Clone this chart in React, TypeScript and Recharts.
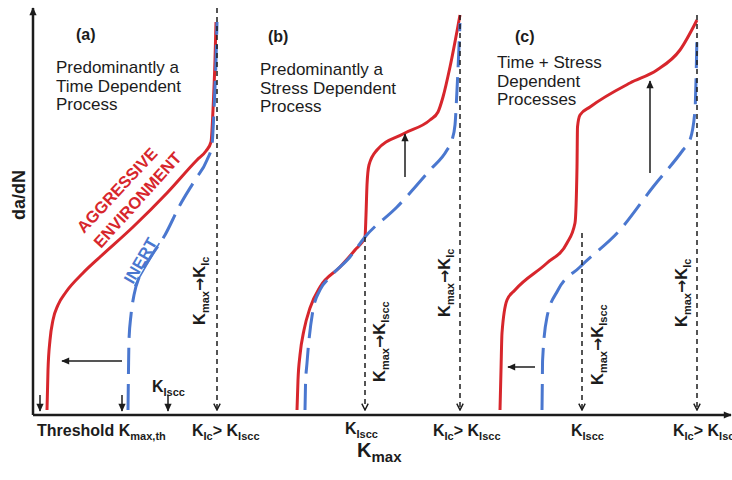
import React from "react";
import { LineChart, Line, XAxis, YAxis, ReferenceLine } from "recharts";

type Pt = { x: number; y: number };

// schematic units: x = K_max, y = da/dN (arbitrary)
const redA: Pt[] = [
  { x: 14, y: 5 }, { x: 15, y: 45 }, { x: 17, y: 75 }, { x: 20, y: 95 }, { x: 25, y: 110 },
  { x: 33, y: 123 }, { x: 50, y: 142 }, { x: 67, y: 158 }, { x: 100, y: 188 }, { x: 134, y: 222 },
  { x: 164, y: 255 }, { x: 173, y: 264 }, { x: 178, y: 273 }, { x: 180, y: 305 }, { x: 182, y: 355 },
  { x: 183, y: 393 },
];
const blueA: Pt[] = [
  { x: 95, y: 5 }, { x: 95.5, y: 45 }, { x: 96, y: 75 }, { x: 98, y: 100 }, { x: 101, y: 120 },
  { x: 107, y: 140 }, { x: 117, y: 157 }, { x: 132, y: 180 }, { x: 147, y: 210 }, { x: 162, y: 235 },
  { x: 174, y: 255 }, { x: 179, y: 270 }, { x: 181, y: 305 }, { x: 183, y: 355 }, { x: 184, y: 393 },
];
const redB: Pt[] = [
  { x: 264, y: 5 }, { x: 265, y: 35 }, { x: 267, y: 60 }, { x: 271, y: 85 }, { x: 277, y: 107 },
  { x: 287, y: 128 }, { x: 307, y: 148 }, { x: 322, y: 165 }, { x: 332, y: 178 }, { x: 333, y: 200 },
  { x: 334, y: 230 }, { x: 336, y: 250 }, { x: 344, y: 265 }, { x: 370, y: 281 }, { x: 397, y: 295 },
  { x: 405, y: 303 }, { x: 410, y: 318 }, { x: 417, y: 348 }, { x: 427, y: 400 },
];
const blueB: Pt[] = [
  { x: 272, y: 5 }, { x: 272.5, y: 30 }, { x: 274, y: 52 }, { x: 280, y: 105 }, { x: 287, y: 125 },
  { x: 297, y: 138 }, { x: 317, y: 158 }, { x: 332, y: 178 }, { x: 364, y: 208 }, { x: 397, y: 245 },
  { x: 414, y: 265 }, { x: 419, y: 275 }, { x: 422, y: 290 }, { x: 424, y: 325 }, { x: 427, y: 392 },
];
const redC: Pt[] = [
  { x: 467, y: 5 }, { x: 468, y: 45 }, { x: 469, y: 82 }, { x: 474, y: 115 }, { x: 482, y: 125 },
  { x: 514, y: 152 }, { x: 534, y: 172 }, { x: 542, y: 192 }, { x: 544, y: 248 }, { x: 544.5, y: 288 },
  { x: 547, y: 300 }, { x: 557, y: 308 }, { x: 597, y: 332 }, { x: 624, y: 345 }, { x: 647, y: 365 },
  { x: 664, y: 395 },
];
const blueC: Pt[] = [
  { x: 509, y: 5 }, { x: 509.3, y: 30 }, { x: 509.6, y: 55 }, { x: 514, y: 98 }, { x: 525, y: 125 },
  { x: 547, y: 148 }, { x: 587, y: 185 }, { x: 620, y: 228 }, { x: 650, y: 265 }, { x: 657, y: 275 },
  { x: 662, y: 305 }, { x: 664, y: 382 },
];

// vertical dotted guides (K_Iscc / K_Ic), from top down to the axis
const guides = [
  { x: 184, top: 407 },
  { x: 332, top: 178 },
  { x: 427, top: 400 },
  { x: 549, top: 182 },
  { x: 664, top: 400 },
];

// solid annotation arrows
const arrows = [
  { x1: 7, y1: 20, x2: 7, y2: 4 },
  { x1: 89, y1: 20, x2: 89, y2: 4 },
  { x1: 135, y1: 20, x2: 135, y2: 4 },
  { x1: 89, y1: 54, x2: 29, y2: 54 },
  { x1: 372, y1: 238, x2: 372, y2: 281 },
  { x1: 617, y1: 242, x2: 617, y2: 334 },
  { x1: 502, y1: 48, x2: 475, y2: 48 },
];

const RED = "#d7262c";
const BLUE = "#4a77cf";
const INK = "#1c1c1c";
const FONT = "'Liberation Sans', Arial, sans-serif";

function seg(p: any, marker: string, dash?: string, width = 1.5) {
  return (
    <line
      x1={p.x1}
      y1={p.y1}
      x2={p.x2}
      y2={p.y2}
      stroke={INK}
      strokeWidth={width}
      strokeDasharray={dash}
      markerEnd={`url(#${marker})`}
    />
  );
}

function KArrow({ x, y, to }: { x: number; y: number; to: string }) {
  return (
    <text x={x} y={y} transform={`rotate(-90 ${x} ${y})`} fontSize={16.5} fontWeight="bold" fill={INK}>
      K<tspan fontSize={11} dy={4}>max</tspan>
      <tspan dy={-4} fontFamily="'DejaVu Sans', sans-serif" fontSize={16}>→</tspan>
      <tspan>K</tspan>
      <tspan fontSize={11} dy={4}>{to}</tspan>
    </text>
  );
}

function KPair({ x, y }: { x: number; y: number }) {
  return (
    <text x={x} y={y} fontSize={16} fontWeight="bold" fill={INK}>
      K<tspan fontSize={11} dy={4}>Ic</tspan>
      <tspan dy={-4}>&gt; K</tspan>
      <tspan fontSize={11} dy={4}>Iscc</tspan>
    </text>
  );
}

function KIscc({ x, y }: { x: number; y: number }) {
  return (
    <text x={x} y={y} fontSize={16} fontWeight="bold" fill={INK}>
      K<tspan fontSize={11} dy={4}>Iscc</tspan>
    </text>
  );
}

function Lines({ x, y, lines }: { x: number; y: number; lines: string[] }) {
  return (
    <text x={x} y={y} fontSize={17} fill={INK}>
      {lines.map((l, i) => (
        <tspan key={i} x={x} dy={i === 0 ? 0 : 18.5}>
          {l}
        </tspan>
      ))}
    </text>
  );
}

export default function App() {
  const curve = (data: Pt[], color: string, dashed: boolean, key: string) => (
    <Line
      key={key}
      data={data}
      dataKey="y"
      type="monotone"
      stroke={color}
      strokeWidth={3}
      strokeDasharray={dashed ? "26 10" : undefined}
      dot={false}
      activeDot={false}
      isAnimationActive={false}
    />
  );

  return (
    <div style={{ position: "absolute", left: 0, top: 0, width: 732, height: 480, background: "#fff" }}>
      <LineChart
        width={732}
        height={480}
        margin={{ top: 0, right: 0, bottom: 65, left: 33 }}
        style={{ fontFamily: FONT }}
      >
        <defs>
          <marker id="headFilled" viewBox="0 0 10 10" refX="9" refY="5" markerWidth="9" markerHeight="8"
            markerUnits="userSpaceOnUse" orient="auto">
            <path d="M0,0.5 L10,5 L0,9.5 z" fill={INK} />
          </marker>
          <marker id="headOpen" viewBox="0 0 10 10" refX="9" refY="5" markerWidth="8" markerHeight="9"
            markerUnits="userSpaceOnUse" orient="auto">
            <path d="M1,1 L9,5 L1,9" fill="none" stroke={INK} strokeWidth={1.8} />
          </marker>
          <marker id="headAxis" viewBox="0 0 10 10" refX="9" refY="5" markerWidth="10" markerHeight="8"
            markerUnits="userSpaceOnUse" orient="auto">
            <path d="M0,0.5 L10,5 L0,9.5 z" fill={INK} />
          </marker>
        </defs>
        <XAxis type="number" dataKey="x" domain={[0, 699]} hide allowDataOverflow />
        <YAxis type="number" domain={[0, 415]} hide allowDataOverflow />

        {curve(redA, RED, false, "ra")}
        {curve(blueA, BLUE, true, "ba")}
        {curve(redB, RED, false, "rb")}
        {curve(blueB, BLUE, true, "bb")}
        {curve(redC, RED, false, "rc")}
        {curve(blueC, BLUE, true, "bc")}

        <ReferenceLine
          segment={[{ x: 0, y: 0 }, { x: 0, y: 407 }]}
          ifOverflow="visible"
          shape={(p: any) => seg(p, "headAxis", undefined, 2.5)}
        />
        <ReferenceLine
          segment={[{ x: 0, y: 0 }, { x: 698, y: 0 }]}
          ifOverflow="visible"
          shape={(p: any) => seg(p, "headAxis", undefined, 2.5)}
        />
        {guides.map((g, i) => (
          <ReferenceLine
            key={`g${i}`}
            segment={[{ x: g.x, y: g.top }, { x: g.x, y: 5 }]}
            ifOverflow="visible"
            shape={(p: any) => seg(p, "headOpen", "5 4", 1.5)}
          />
        ))}
        {arrows.map((a, i) => (
          <ReferenceLine
            key={`a${i}`}
            segment={[{ x: a.x1, y: a.y1 }, { x: a.x2, y: a.y2 }]}
            ifOverflow="visible"
            shape={(p: any) => seg(p, "headFilled", undefined, 1.5)}
          />
        ))}

        <g fontFamily={FONT}>
          <text x={76} y={40} fontSize={16} fontWeight="bold" fill={INK}>(a)</text>
          <text x={268} y={42} fontSize={16} fontWeight="bold" fill={INK}>(b)</text>
          <text x={515} y={42} fontSize={16} fontWeight="bold" fill={INK}>(c)</text>

          <Lines x={56} y={73} lines={["Predominantly a", "Time Dependent", "Process"]} />
          <Lines x={260} y={75} lines={["Predominantly a", "Stress Dependent", "Process"]} />
          <Lines x={497} y={68} lines={["Time + Stress", "Dependent", "Processes"]} />

          <text x={84} y={234} transform="rotate(-47 84 234)" fontSize={16.5} fontWeight="bold" fill={RED}>
            AGGRESSIVE
          </text>
          <text x={101} y={249} transform="rotate(-48 101 249)" fontSize={16.5} fontWeight="bold" fill={RED}>
            ENVIRONMENT
          </text>
          <text x={133} y={285} transform="rotate(-60 133 285)" fontSize={16.5} fontWeight="bold" fill={BLUE}
            textDecoration="underline">
            INERT
          </text>

          <text x={25} y={195} transform="rotate(-90 25 195)" textAnchor="middle" fontSize={18} fontWeight="bold" fill={INK}>
            da/dN
          </text>

          <KArrow x={205} y={325} to="Ic" />
          <KArrow x={385} y={382} to="Iscc" />
          <KArrow x={450} y={317} to="Ic" />
          <KArrow x={603} y={385} to="Iscc" />
          <KArrow x={687} y={327} to="Ic" />

          <KIscc x={152} y={392} />

          <text x={37} y={436} fontSize={16} fontWeight="bold" fill={INK}>
            Threshold K<tspan fontSize={11} dy={4}>max,th</tspan>
          </text>
          <KPair x={192} y={436} />
          <KIscc x={345} y={434} />
          <KPair x={433} y={436} />
          <KIscc x={571} y={436} />
          <KPair x={673} y={436} />

          <text x={357} y={457} fontSize={20} fontWeight="bold" fill={INK}>
            K<tspan fontSize={15} dy={5}>max</tspan>
          </text>
        </g>
      </LineChart>
    </div>
  );
}
